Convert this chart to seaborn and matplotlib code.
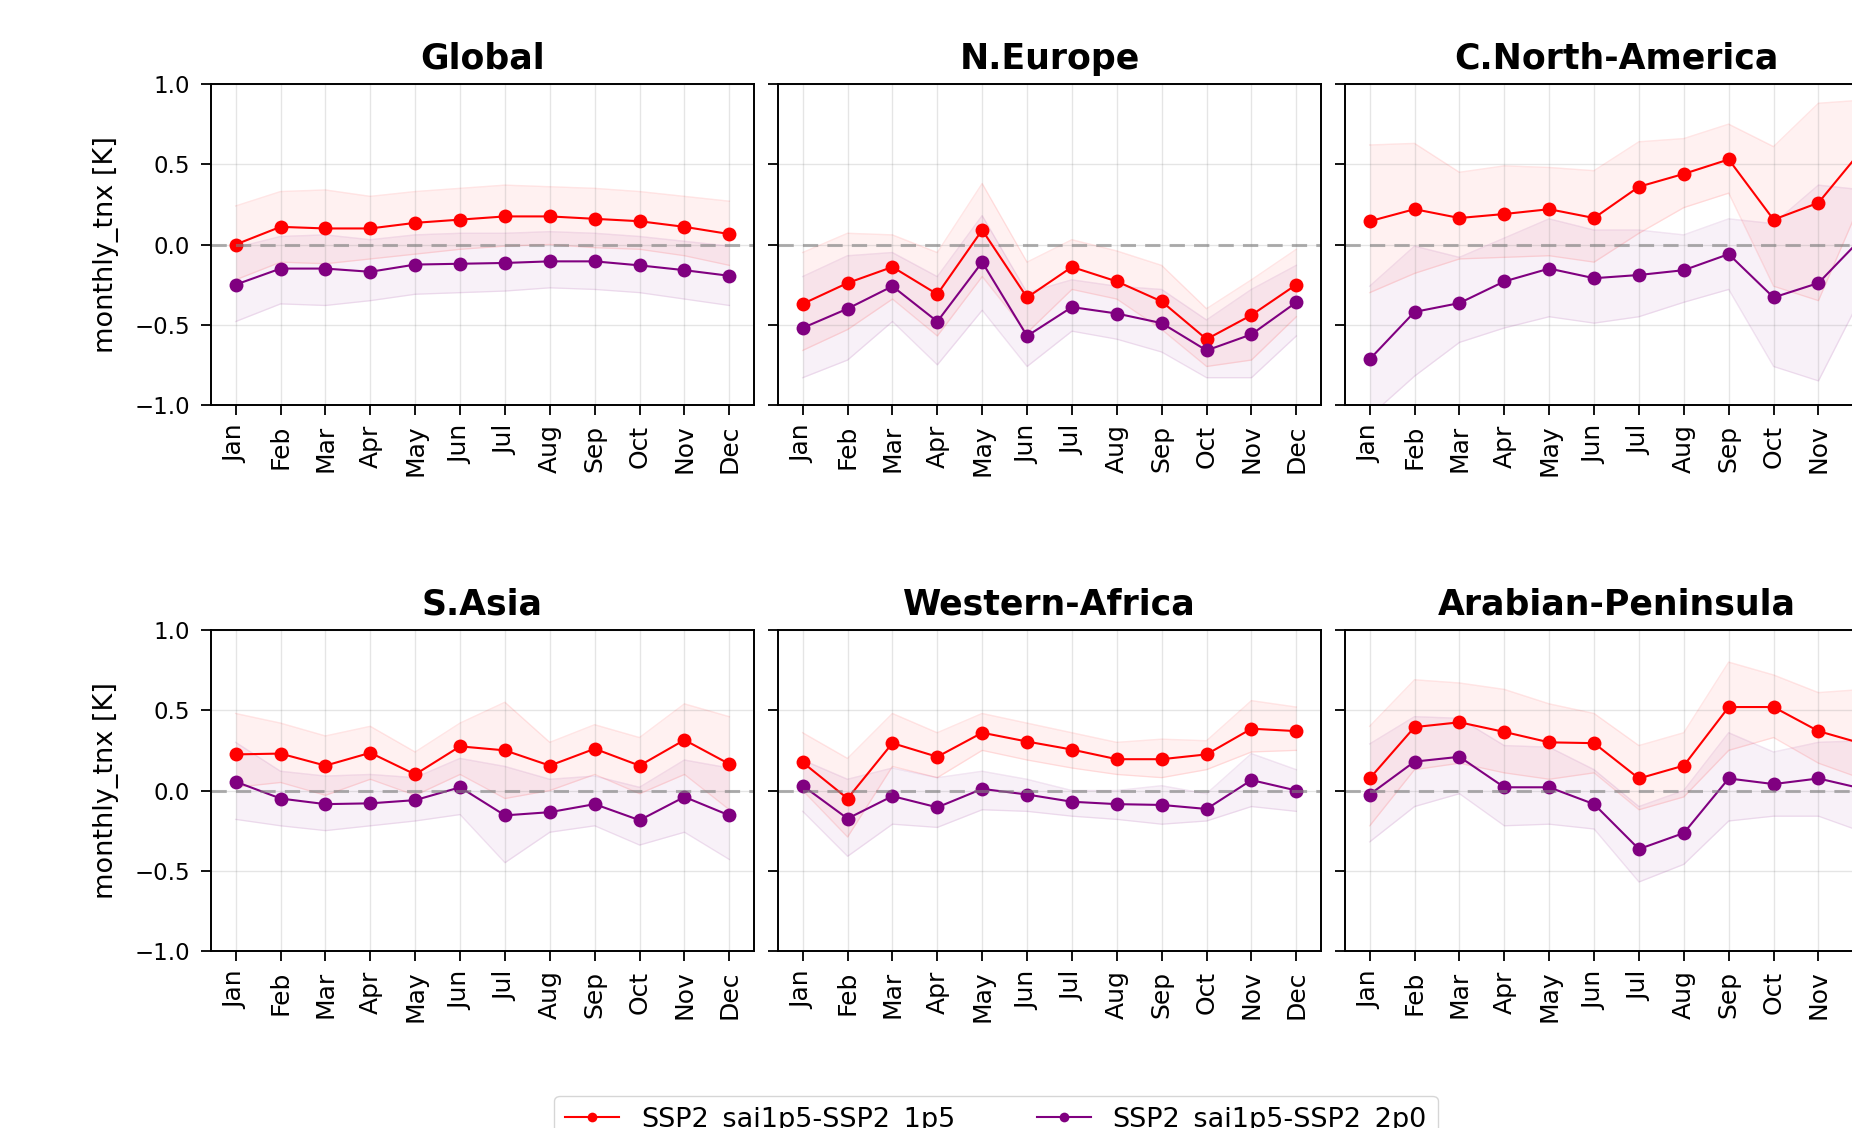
#!/usr/bin/env python3

import numpy as np
import pandas as pd
import matplotlib
matplotlib.use('Agg')
import matplotlib.pyplot as plt
import seaborn as sns

months = ['Jan', 'Feb', 'Mar', 'Apr', 'May', 'Jun',
          'Jul', 'Aug', 'Sep', 'Oct', 'Nov', 'Dec']
regions = ['Global', 'N.Europe', 'C.North-America',
           'S.Asia', 'Western-Africa', 'Arabian-Peninsula']
label_1p5 = 'SSP2_sai1p5-SSP2_1p5'
label_2p0 = 'SSP2_sai1p5-SSP2_2p0'

# Global
glob_1p5 = [0.0, 0.11, 0.10, 0.10, 0.135, 0.155, 0.175, 0.175, 0.16, 0.145, 0.11, 0.065]
glob_1p5_lo = [-0.22, -0.11, -0.12, -0.09, -0.06, -0.03, -0.01, 0.0, -0.02, -0.03, -0.07, -0.13]
glob_1p5_hi = [0.24, 0.33, 0.34, 0.30, 0.33, 0.35, 0.37, 0.36, 0.35, 0.33, 0.30, 0.27]
glob_2p0 = [-0.25, -0.15, -0.15, -0.17, -0.125, -0.12, -0.115, -0.105, -0.105, -0.13, -0.16, -0.195]
glob_2p0_lo = [-0.48, -0.37, -0.38, -0.35, -0.31, -0.30, -0.29, -0.27, -0.28, -0.30, -0.34, -0.38]
glob_2p0_hi = [-0.02, 0.05, 0.06, 0.03, 0.06, 0.07, 0.07, 0.08, 0.07, 0.05, 0.02, -0.01]

# N.Europe
neu_1p5 = [-0.37, -0.24, -0.14, -0.31, 0.09, -0.33, -0.14, -0.23, -0.355, -0.59, -0.44, -0.25]
neu_1p5_lo = [-0.66, -0.53, -0.34, -0.57, -0.20, -0.55, -0.28, -0.34, -0.53, -0.76, -0.72, -0.45]
neu_1p5_hi = [-0.05, 0.07, 0.06, -0.05, 0.38, -0.11, 0.03, -0.04, -0.13, -0.40, -0.22, -0.03]
neu_2p0 = [-0.52, -0.40, -0.26, -0.48, -0.11, -0.57, -0.39, -0.43, -0.49, -0.66, -0.56, -0.36]
neu_2p0_lo = [-0.83, -0.72, -0.48, -0.75, -0.41, -0.76, -0.54, -0.59, -0.67, -0.83, -0.83, -0.57]
neu_2p0_hi = [-0.20, -0.07, -0.05, -0.20, 0.18, -0.30, -0.22, -0.26, -0.28, -0.47, -0.28, -0.13]

# C.North-America
cna_1p5 = [0.145, 0.22, 0.165, 0.19, 0.22, 0.165, 0.36, 0.44, 0.53, 0.155, 0.26, 0.60]
cna_1p5_lo = [-0.30, -0.18, -0.09, -0.08, -0.07, -0.11, 0.07, 0.23, 0.32, -0.26, -0.35, 0.30]
cna_1p5_hi = [0.62, 0.63, 0.45, 0.49, 0.48, 0.46, 0.64, 0.66, 0.75, 0.61, 0.88, 0.90]
cna_2p0 = [-0.715, -0.42, -0.365, -0.23, -0.15, -0.21, -0.19, -0.16, -0.06, -0.33, -0.24, 0.05]
cna_2p0_lo = [-1.07, -0.82, -0.61, -0.52, -0.45, -0.49, -0.45, -0.36, -0.28, -0.76, -0.85, -0.30]
cna_2p0_hi = [-0.26, -0.01, -0.08, 0.04, 0.16, 0.09, 0.09, 0.06, 0.16, 0.13, 0.37, 0.34]

# S.Asia
sas_1p5 = [0.225, 0.23, 0.155, 0.235, 0.10, 0.275, 0.25, 0.155, 0.26, 0.155, 0.315, 0.165]
sas_1p5_lo = [0.02, 0.05, -0.03, 0.07, -0.03, 0.10, -0.05, 0.0, 0.10, -0.02, 0.10, -0.12]
sas_1p5_hi = [0.48, 0.42, 0.34, 0.40, 0.24, 0.42, 0.55, 0.30, 0.41, 0.33, 0.54, 0.46]
sas_2p0 = [0.055, -0.05, -0.085, -0.08, -0.06, 0.02, -0.155, -0.135, -0.085, -0.185, -0.04, -0.155]
sas_2p0_lo = [-0.18, -0.22, -0.25, -0.22, -0.19, -0.15, -0.45, -0.26, -0.22, -0.34, -0.26, -0.43]
sas_2p0_hi = [0.30, 0.12, 0.09, 0.10, 0.08, 0.20, 0.15, 0.07, 0.09, 0.02, 0.19, 0.14]

# Western-Africa
waf_1p5 = [0.175, -0.05, 0.295, 0.21, 0.36, 0.305, 0.255, 0.195, 0.195, 0.225, 0.385, 0.37]
waf_1p5_lo = [0.0, -0.29, 0.15, 0.08, 0.25, 0.19, 0.14, 0.10, 0.08, 0.13, 0.24, 0.25]
waf_1p5_hi = [0.36, 0.20, 0.48, 0.36, 0.48, 0.42, 0.36, 0.30, 0.32, 0.31, 0.56, 0.52]
waf_2p0 = [0.03, -0.175, -0.035, -0.105, 0.01, -0.025, -0.07, -0.085, -0.09, -0.115, 0.065, 0.0]
waf_2p0_lo = [-0.13, -0.41, -0.21, -0.23, -0.12, -0.13, -0.16, -0.18, -0.21, -0.19, -0.10, -0.13]
waf_2p0_hi = [0.19, 0.07, 0.14, 0.08, 0.12, 0.07, 0.0, 0.0, 0.03, -0.02, 0.23, 0.13]

# Arabian-Peninsula
arp_1p5 = [0.075, 0.395, 0.425, 0.365, 0.30, 0.295, 0.075, 0.155, 0.52, 0.52, 0.37, 0.29]
arp_1p5_lo = [-0.22, 0.13, 0.17, 0.11, 0.07, 0.11, -0.12, -0.04, 0.25, 0.33, 0.17, 0.07]
arp_1p5_hi = [0.40, 0.69, 0.67, 0.63, 0.54, 0.48, 0.28, 0.36, 0.80, 0.72, 0.61, 0.63]
arp_2p0 = [-0.025, 0.18, 0.21, 0.02, 0.02, -0.085, -0.365, -0.265, 0.075, 0.04, 0.075, 0.01]
arp_2p0_lo = [-0.32, -0.10, -0.02, -0.22, -0.21, -0.24, -0.57, -0.46, -0.19, -0.16, -0.16, -0.26]
arp_2p0_hi = [0.29, 0.46, 0.45, 0.28, 0.27, 0.13, -0.10, 0.0, 0.36, 0.24, 0.30, 0.31]

series = {
    'Global': (glob_1p5, glob_1p5_lo, glob_1p5_hi, glob_2p0, glob_2p0_lo, glob_2p0_hi),
    'N.Europe': (neu_1p5, neu_1p5_lo, neu_1p5_hi, neu_2p0, neu_2p0_lo, neu_2p0_hi),
    'C.North-America': (cna_1p5, cna_1p5_lo, cna_1p5_hi, cna_2p0, cna_2p0_lo, cna_2p0_hi),
    'S.Asia': (sas_1p5, sas_1p5_lo, sas_1p5_hi, sas_2p0, sas_2p0_lo, sas_2p0_hi),
    'Western-Africa': (waf_1p5, waf_1p5_lo, waf_1p5_hi, waf_2p0, waf_2p0_lo, waf_2p0_hi),
    'Arabian-Peninsula': (arp_1p5, arp_1p5_lo, arp_1p5_hi, arp_2p0, arp_2p0_lo, arp_2p0_hi),
}


def build_frame():
    '''Long table: one row per region, scenario and month.'''
    rows = []
    for reg in regions:
        m1, l1, h1, m2, l2, h2 = series[reg]
        for i, mon in enumerate(months):
            rows.append([reg, label_1p5, i, mon, m1[i], l1[i], h1[i]])
            rows.append([reg, label_2p0, i, mon, m2[i], l2[i], h2[i]])
    return pd.DataFrame(rows, columns=['region', 'scenario', 'idx', 'month',
                                       'value', 'lo', 'hi'])


def plot_monthly_tnx():
    df = build_frame()
    W, H = 1852, 1128
    fig = plt.figure(figsize=(W / 100, H / 100), dpi=100)

    col_left = [211, 778, 1345]
    row_top = [84, 630]
    aw, ah = 543, 321
    palette = {label_1p5: 'red', label_2p0: 'purple'}

    for k, reg in enumerate(regions):
        r, c = divmod(k, 3)
        ax = fig.add_axes([col_left[c] / W, 1 - (row_top[r] + ah) / H,
                           aw / W, ah / H])
        sub = df[df.region == reg]
        for scen in [label_1p5, label_2p0]:
            s = sub[sub.scenario == scen]
            col = palette[scen]
            ax.fill_between(s.idx, s.lo, s.hi, color=col, alpha=0.055, lw=0)
            ax.plot(s.idx, s.lo, color=col, alpha=0.1, lw=1)
            ax.plot(s.idx, s.hi, color=col, alpha=0.1, lw=1)
        sns.lineplot(data=sub, x='idx', y='value', hue='scenario',
                     palette=palette, marker='o', markersize=10,
                     markeredgewidth=0, linewidth=1.5, ax=ax, legend=False)
        ax.axhline(0, color='gray', alpha=0.6, lw=2.2, dashes=(5, 3))
        ax.set_ylim(-1, 1)
        ax.set_yticks([-1, -0.5, 0, 0.5, 1])
        ax.set_xticks(range(12))
        ax.set_xticklabels(months, rotation=90, fontsize=18)
        ax.grid(True, color='gray', alpha=0.2, lw=1)
        ax.tick_params(axis='both', length=7, width=1.3)
        ax.tick_params(axis='x', pad=7)
        ax.tick_params(axis='y', pad=8, labelsize=16.5)
        for sp in ax.spines.values():
            sp.set_linewidth(1.4)
        ax.set_xlabel('')
        ax.set_title(reg, fontsize=25, fontweight='bold', pad=11)
        if c == 0:
            ax.set_ylabel('monthly_tnx [K]', fontsize=19.5)
            ax.yaxis.set_label_coords(-0.17, 0.5)
        else:
            ax.set_ylabel('')
            ax.set_yticklabels([])

    handles = [
        plt.Line2D([], [], color='red', marker='o', markersize=7,
                   markeredgewidth=0, lw=1.5, label=label_1p5),
        plt.Line2D([], [], color='purple', marker='o', markersize=7,
                   markeredgewidth=0, lw=1.5, label=label_2p0),
    ]
    fig.legend(handles=handles, loc='upper center', ncol=2, fontsize=19.5,
               bbox_to_anchor=(996 / W, 1 - 1096 / H), borderaxespad=0,
               columnspacing=3.0)

    fig.savefig('out.png', dpi=100)


def main():
    plot_monthly_tnx()


if __name__ == '__main__':
    main()
